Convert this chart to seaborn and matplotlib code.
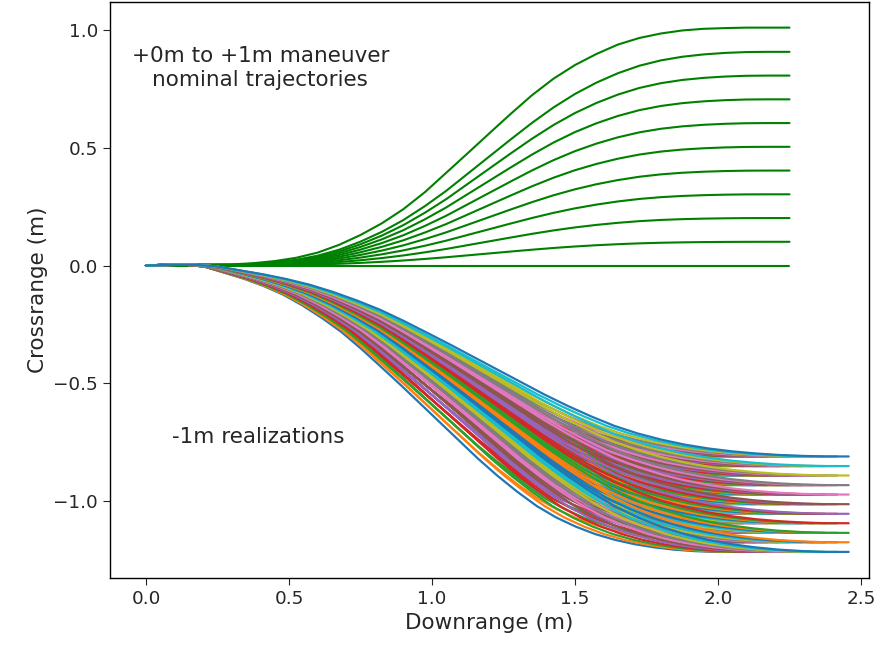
import numpy as np
import pandas as pd
import matplotlib
matplotlib.use("Agg")
import matplotlib.pyplot as plt
import seaborn as sns

# ---- data ----
# downrange sample points shared by the read profiles
grid_x = [0.0, 0.075, 0.15, 0.225, 0.3, 0.375, 0.45, 0.525, 0.6, 0.675, 0.75,
          0.825, 0.9, 0.975, 1.05, 1.125, 1.2, 1.275, 1.35, 1.425, 1.5,
          1.575, 1.65, 1.725, 1.8, 1.875, 1.95, 2.025, 2.1, 2.175, 2.25]
# nominal +1m trajectory (top green line), crossrange in m
nom_top_y = [0.0, 0.002, 0.004, 0.004, 0.005, 0.01, 0.019, 0.033, 0.055, 0.088, 0.13,
             0.18, 0.24, 0.312, 0.395, 0.478, 0.562, 0.645, 0.725, 0.795, 0.853,
             0.9, 0.94, 0.968, 0.987, 1.0, 1.007, 1.01, 1.012, 1.012, 1.012]
# normalized shape of the smaller nominal maneuvers
nom_mid_y = [0.0, 0.002, 0.004, 0.004, 0.004, 0.008, 0.015, 0.027, 0.046, 0.074, 0.112,
             0.158, 0.213, 0.278, 0.35, 0.43, 0.51, 0.59, 0.668, 0.74, 0.803,
             0.856, 0.9, 0.935, 0.96, 0.977, 0.988, 0.995, 0.999, 1.0, 1.0]
nom_levels = [0.0, 0.101, 0.202, 0.303, 0.404, 0.505, 0.606, 0.707, 0.808, 0.909]

# normalized shape of the -1m realizations
real_y = [0.0, -0.003, -0.004, 0.004, 0.025, 0.046, 0.071, 0.101, 0.139, 0.183, 0.232,
          0.29, 0.352, 0.415, 0.48, 0.545, 0.61, 0.675, 0.735, 0.79, 0.84,
          0.88, 0.912, 0.938, 0.958, 0.973, 0.984, 0.992, 0.997, 1.0, 1.0]
# final crossrange magnitudes and downrange stretch of the realizations
real_mag = [1.218, 1.177, 1.137, 1.096, 1.056, 1.015, 0.974, 0.934, 0.893, 0.853, 0.812]
real_stretch = [0.911, 0.929, 0.947, 0.965, 0.983, 1.0, 1.019, 1.037, 1.055, 1.074, 1.092]

# ---- build long-form tables ----
rows = []
lid = 0
for lev in nom_levels:
    for x, y in zip(grid_x, nom_mid_y):
        rows.append((lid, x, lev * y))
    lid += 1
for x, y in zip(grid_x, nom_top_y):
    rows.append((lid, x, y))
nom_df = pd.DataFrame(rows, columns=["line", "x", "y"])

rows = []
lid = 0
for s in real_stretch:
    for m in real_mag:
        for x, y in zip(grid_x, real_y):
            rows.append((lid, s * x, -m * y))
        lid += 1
real_df = pd.DataFrame(rows, columns=["line", "x", "y"])
n_real = lid

sns.set_style("ticks")
plt.rcParams["font.family"] = ["DejaVu Sans"]

fig = plt.figure(figsize=(8.79, 6.48), dpi=100)
ax = fig.add_axes([110 / 879, 70 / 648, (869 - 110) / 879, (646 - 70) / 648])

sns.lineplot(data=nom_df, x="x", y="y", hue="line",
             palette=["green"] * len(nom_df["line"].unique()),
             sort=False, estimator=None, legend=False, linewidth=1.5, ax=ax)

tab = sns.color_palette("tab10")
sns.lineplot(data=real_df, x="x", y="y", hue="line",
             palette=[tab[i % 10] for i in range(n_real)],
             sort=False, estimator=None, legend=False, linewidth=1.6, ax=ax)

ax.set_xlim(-0.126, 2.528)
ax.set_ylim(-1.329, 1.121)
ax.set_xticks([0.0, 0.5, 1.0, 1.5, 2.0, 2.5])
ax.set_yticks([-1.0, -0.5, 0.0, 0.5, 1.0])
ax.tick_params(labelsize=13.2, colors="#262626", length=5)
for sp in ax.spines.values():
    sp.set_color("black")
    sp.set_linewidth(1.0)
ax.set_xlabel("Downrange (m)", fontsize=15.5, color="#262626")
ax.set_ylabel("Crossrange (m)", fontsize=15.5, color="#262626")

ax.text(0.40, 0.84, "+0m to +1m maneuver\nnominal trajectories", ha="center",
        va="center", fontsize=15.5, color="#262626")
ax.text(0.09, -0.728, "-1m realizations", ha="left", va="center",
        fontsize=15.5, color="#262626")

fig.savefig("out.png", dpi=100)
